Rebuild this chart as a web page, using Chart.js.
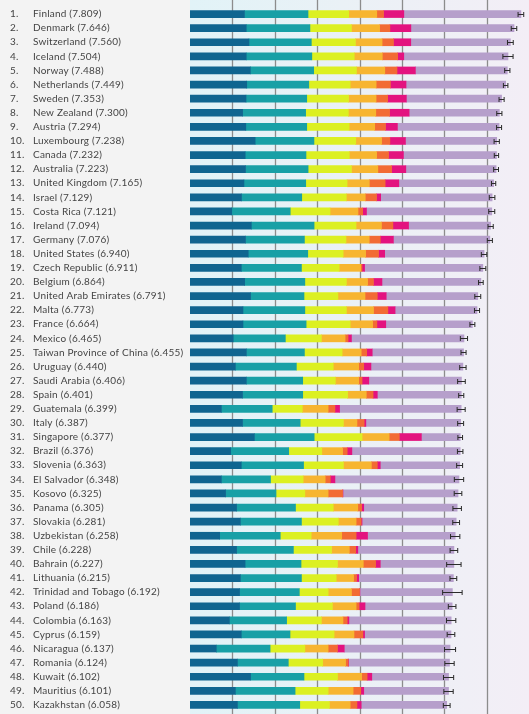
<!DOCTYPE html>
<html lang="en">
<head>
<meta charset="UTF-8">
<title>Ranking of Happiness 2017-2019 (Part 1)</title>
<script src="https://cdn.jsdelivr.net/npm/chart.js"></script>
<style>
  html, body { margin: 0; padding: 0; background: #f3f3f3; }
  #wrap { width: 529px; height: 714px; }
</style>
</head>
<body>
<div id="wrap"><canvas id="happyChart" width="529" height="714"></canvas></div>
<script>
const countries = ['Finland','Denmark','Switzerland','Iceland','Norway','Netherlands','Sweden','New Zealand','Austria','Luxembourg',
  'Canada','Australia','United Kingdom','Israel','Costa Rica','Ireland','Germany','United States','Czech Republic','Belgium',
  'United Arab Emirates','Malta','France','Mexico','Taiwan Province of China','Uruguay','Saudi Arabia','Spain','Guatemala','Italy',
  'Singapore','Brazil','Slovenia','El Salvador','Kosovo','Panama','Slovakia','Uzbekistan','Chile','Bahrain',
  'Lithuania','Trinidad and Tobago','Poland','Colombia','Cyprus','Nicaragua','Romania','Kuwait','Mauritius','Kazakhstan'];

const scores = [7.809,7.646,7.560,7.504,7.488,7.449,7.353,7.300,7.294,7.238,
  7.232,7.223,7.165,7.129,7.121,7.094,7.076,6.940,6.911,6.864,
  6.791,6.773,6.664,6.465,6.455,6.440,6.406,6.401,6.399,6.387,
  6.377,6.376,6.363,6.348,6.325,6.305,6.281,6.258,6.228,6.227,
  6.215,6.192,6.186,6.163,6.159,6.137,6.124,6.102,6.101,6.058];

// explained by: GDP per capita
const gdp = [1.285,1.327,1.391,1.327,1.424,1.339,1.322,1.242,1.317,1.537,
  1.302,1.310,1.273,1.216,0.985,1.448,1.310,1.374,1.21,1.29,
  1.43,1.25,1.25,1.02,1.33,1.07,1.33,1.24,0.74,1.24,
  1.52,0.96,1.21,0.74,0.84,1.10,1.19,0.70,1.10,1.30,
  1.19,1.17,1.17,0.93,1.21,0.62,1.12,1.43,1.07,1.12];
// explained by: social support
const social = [1.500,1.503,1.472,1.548,1.495,1.464,1.433,1.487,1.438,1.388,
  1.435,1.477,1.458,1.421,1.380,1.480,1.390,1.405,1.42,1.42,
  1.26,1.46,1.49,1.23,1.37,1.44,1.33,1.42,1.20,1.36,
  1.41,1.37,1.47,1.16,1.19,1.39,1.44,1.43,1.34,1.32,
  1.44,1.41,1.32,1.35,1.15,1.27,1.20,1.26,1.41,1.47];
// explained by: healthy life expectancy
const health = [0.961,0.979,1.041,1.001,1.008,0.976,0.986,1.008,1.001,0.986,
  1.023,1.023,0.976,1.051,0.940,0.990,0.980,0.835,0.89,0.98,
  0.80,0.98,1.04,0.85,0.89,0.87,0.77,1.06,0.71,1.02,
  1.13,0.78,0.94,0.77,0.68,0.89,0.87,0.73,0.90,0.86,
  0.82,0.68,0.87,0.82,1.04,0.82,0.81,0.79,0.78,0.70];
// explained by: freedom to make life choices
const freedom = [0.662,0.665,0.629,0.662,0.670,0.614,0.650,0.647,0.603,0.610,
  0.644,0.623,0.525,0.448,0.660,0.600,0.550,0.530,0.51,0.50,
  0.64,0.64,0.53,0.56,0.45,0.60,0.55,0.44,0.61,0.32,
  0.64,0.49,0.66,0.52,0.55,0.58,0.42,0.72,0.42,0.61,
  0.41,0.55,0.56,0.51,0.47,0.55,0.54,0.57,0.59,0.49];
// explained by: generosity
const generosity = [0.160,0.243,0.269,0.362,0.288,0.336,0.273,0.326,0.255,0.196,
  0.282,0.324,0.373,0.266,0.110,0.270,0.260,0.305,0.03,0.14,
  0.29,0.34,0.10,0.07,0.13,0.12,0.08,0.16,0.16,0.17,
  0.24,0.11,0.14,0.12,0.34,0.09,0.12,0.34,0.15,0.29,
  0.07,0.19,0.07,0.10,0.21,0.22,0.06,0.13,0.18,0.16];
// explained by: perceptions of corruption
const corruption = [0.478,0.495,0.408,0.145,0.434,0.369,0.442,0.461,0.281,0.368,
  0.351,0.336,0.323,0.098,0.090,0.370,0.310,0.145,0.06,0.20,
  0.21,0.17,0.21,0.08,0.13,0.17,0.16,0.10,0.11,0.04,
  0.52,0.11,0.07,0.11,0.01,0.05,0.02,0.27,0.05,0.11,
  0.05,0.01,0.14,0.04,0.04,0.16,0.01,0.11,0.07,0.10];
// dystopia (1.88) + residual
const dystopia = [2.763,2.434,2.350,2.459,2.169,2.351,2.247,2.129,2.399,2.153,
  2.195,2.130,2.237,2.629,2.956,1.936,2.276,2.346,2.791,2.334,
  2.161,1.933,2.044,2.655,2.155,2.170,2.186,1.981,2.869,2.237,
  0.917,2.556,1.873,2.928,2.715,2.205,2.221,2.068,2.268,1.737,
  2.235,2.182,2.056,2.413,2.039,2.497,2.384,1.812,2.001,2.018];
// 95% confidence interval half-widths
const ciHalf = [0.067,0.065,0.068,0.120,0.062,0.053,0.060,0.061,0.059,0.062,
  0.051,0.057,0.050,0.066,0.071,0.062,0.060,0.065,0.070,0.055,
  0.070,0.060,0.058,0.085,0.060,0.075,0.090,0.060,0.095,0.070,
  0.055,0.065,0.070,0.110,0.090,0.100,0.080,0.110,0.090,0.170,
  0.080,0.230,0.090,0.110,0.090,0.130,0.110,0.120,0.110,0.080];

const segments = [
  { label: 'GDP per capita', data: gdp, color: '#0f6590' },
  { label: 'Social support', data: social, color: '#18a0a6' },
  { label: 'Healthy life expectancy', data: health, color: '#dcf022' },
  { label: 'Freedom to make life choices', data: freedom, color: '#f7b530' },
  { label: 'Generosity', data: generosity, color: '#f26b34' },
  { label: 'Perceptions of corruption', data: corruption, color: '#e3137f' },
  { label: 'Dystopia (1.88) + residual', data: dystopia, color: '#b69fcb' }
];

// plot background, vertical grid lines
const backdrop = {
  id: 'backdrop',
  beforeDraw(chart) {
    const { ctx, chartArea, scales } = chart;
    const w = chart.width, h = chart.height;
    ctx.save();
    ctx.fillStyle = '#f3f3f3';
    ctx.fillRect(0, 0, w, h);
    const grad = ctx.createLinearGradient(chartArea.left, 0, w, 0);
    grad.addColorStop(0, '#e1f3f7');
    grad.addColorStop(0.45, '#eaf1f6');
    grad.addColorStop(1, '#f3eef6');
    ctx.fillStyle = grad;
    ctx.fillRect(chartArea.left, 0, w - chartArea.left, h);
    ctx.strokeStyle = '#8c8c8c';
    ctx.lineWidth = 1.3;
    for (let v = 1; v <= 7; v++) {
      const x = Math.round(scales.x.getPixelForValue(v)) + 0.5;
      ctx.beginPath();
      ctx.moveTo(x, 0);
      ctx.lineTo(x, h);
      ctx.stroke();
    }
    ctx.restore();
  }
};

// country labels and whiskers
const extras = {
  id: 'extras',
  afterDatasetsDraw(chart) {
    const { ctx, scales } = chart;
    ctx.save();
    ctx.strokeStyle = '#2b2b2b';
    ctx.lineWidth = 1;
    scores.forEach((s, i) => {
      const y = Math.round(scales.y.getPixelForValue(i)) + 0.5;
      const x1 = scales.x.getPixelForValue(s - ciHalf[i]);
      const x2 = scales.x.getPixelForValue(s + ciHalf[i]);
      ctx.beginPath();
      ctx.moveTo(x1, y); ctx.lineTo(x2, y);
      ctx.moveTo(x1, y - 2.5); ctx.lineTo(x1, y + 2.5);
      ctx.moveTo(x2, y - 2.5); ctx.lineTo(x2, y + 2.5);
      ctx.stroke();
    });

    ctx.fillStyle = '#444444';
    ctx.font = '10px Lato';
    ctx.letterSpacing = '0.2px';
    ctx.textBaseline = 'middle';
    ctx.textAlign = 'left';
    countries.forEach((c, i) => {
      const y = scales.y.getPixelForValue(i);
      ctx.fillText((i + 1) + '.', 10, y);
      ctx.fillText(c + ' (' + scores[i].toFixed(3) + ')', 33, y);
    });
    ctx.restore();
  }
};

new Chart(document.getElementById('happyChart'), {
  type: 'bar',
  data: {
    labels: countries,
    datasets: segments.map(s => ({
      label: s.label,
      data: s.data,
      backgroundColor: s.color,
      borderWidth: 0,
      barThickness: 7
    }))
  },
  options: {
    indexAxis: 'y',
    responsive: false,
    animation: false,
    layout: { padding: { left: 190, right: 0, top: 7, bottom: 2 } },
    plugins: { legend: { display: false }, tooltip: { enabled: false } },
    scales: {
      x: { stacked: true, min: 0, max: 8, display: false },
      y: { stacked: true, display: false }
    }
  },
  plugins: [backdrop, extras]
});
</script>
</body>
</html>
